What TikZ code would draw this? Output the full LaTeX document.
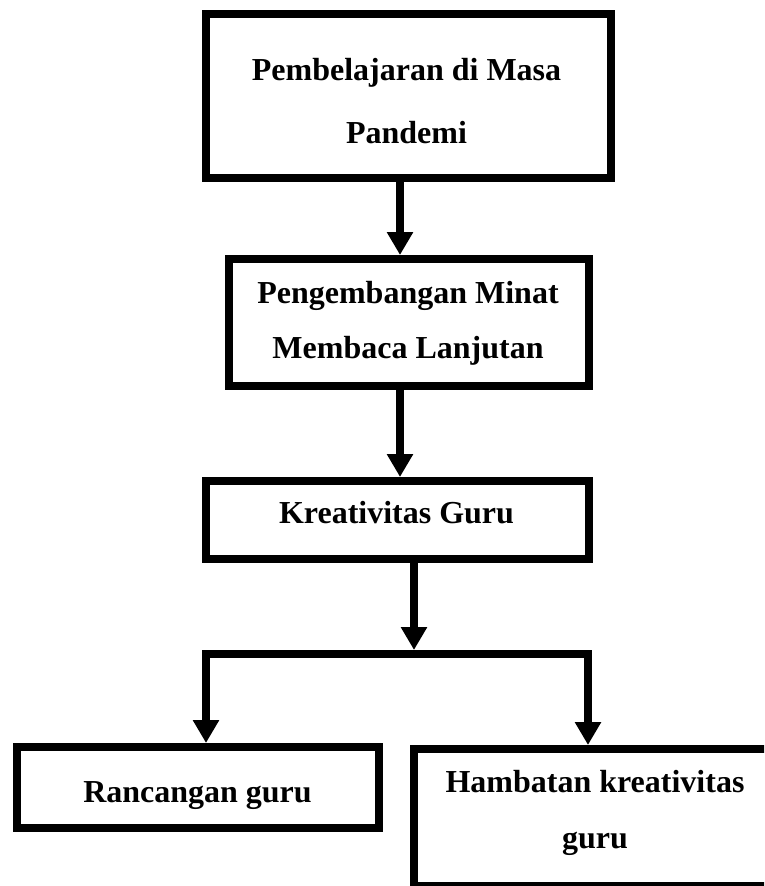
\documentclass[tikz,border=0pt]{standalone}
\usepackage{fontspec}
\setmainfont{Liberation Serif}
\usetikzlibrary{arrows.meta,calc}
\begin{document}
\begin{tikzpicture}[x=1pt,y=-1pt,
  box/.style={draw=black, line width=8pt, rectangle, inner sep=0pt},
  lbl/.style={font=\bfseries\fontsize{32}{38}\selectfont, anchor=base, inner sep=0pt},
  conn/.style={line width=8pt, -{Triangle[length=23pt,width=25pt]}, line join=miter},
  bar/.style={line width=8pt, line join=miter}
]
\useasboundingbox (0,0) rectangle (764,886);
\clip (0,0) rectangle (764,886);
% boxes
\node[box, minimum width=405pt, minimum height=164pt] (b1) at (408.5,96) {};
\node[box, minimum width=360pt, minimum height=127pt] (b2) at (409,322.5) {};
\node[box, minimum width=383pt, minimum height=78pt] (b3) at (397.5,520) {};
\node[box, minimum width=362pt, minimum height=81pt] (b4) at (198,787.5) {};
\node[box, minimum width=362pt, minimum height=137pt] (b5) at (595,817.5) {};
% texts
\node[lbl] (t1a) at (406.5,80) {Pembelajaran di Masa};
\node[lbl] (t1b) at (406.5,143) {Pandemi};
\node[lbl] (t2a) at (408,303) {Pengembangan Minat};
\node[lbl] (t2b) at (408,358) {Membaca Lanjutan};
\node[lbl] (t3) at (396.5,523) {Kreativitas Guru};
\node[lbl] (t4) at (197.5,802) {Rancangan guru};
\node[lbl] (t5a) at (595,792) {Hambatan kreativitas};
\node[lbl] (t5b) at (595,848) {guru};
% connectors
\coordinate (jt) at (414,650);
\coordinate (jl) at (206,653.5);
\coordinate (jr) at (588,653.5);
\draw[conn] (400,0 |- b1.south) -- (400,0 |- b2.north);
\draw[conn] (400,0 |- b2.south) -- (400,0 |- b3.north);
\draw[conn] (414,0 |- b3.south) -- (jt);
\draw[conn] (jr) -- (jl) -- (jl |- b4.north);
\draw[conn] (jl) -- (jr) -- (jr |- b5.north);
\end{tikzpicture}
\end{document}
